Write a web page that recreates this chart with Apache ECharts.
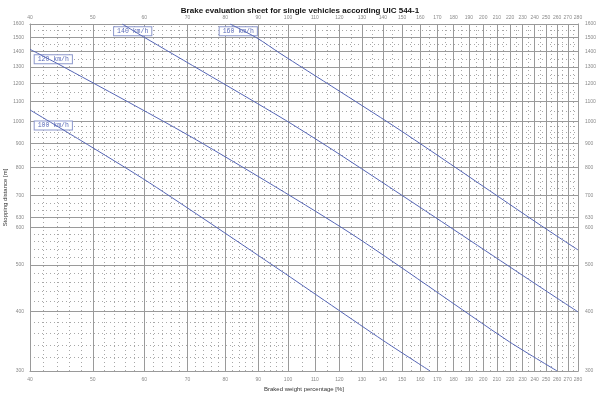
<!DOCTYPE html>
<html>
<head>
<meta charset="utf-8">
<script src="https://cdn.jsdelivr.net/npm/echarts@6/dist/echarts.min.js"></script>
<style>html,body{margin:0;padding:0;background:#fff}#c{width:600px;height:396px}</style>
</head>
<body>
<div id="c"></div>
<script>
// ---- data ----
const titleText = 'Brake evaluation sheet for single vehicles according UIC 544-1';
const xName = 'Braked weight percentage [%]';
const yName = 'Stopping distance [m]';
const xTicks = [40,50,60,70,80,90,100,110,120,130,140,150,160,170,180,190,200,210,220,230,240,250,260,270,280];
const yTicks = [300,400,500,600,630,700,800,900,1000,1100,1200,1300,1400,1500,1600];
const xMinor = [42,44,46,48,52,54,56,58,62,64,66,68,72,74,76,78,82,84,86,88,92,94,96,98,
  105,115,125,135,145,155,165,175,185,195,205,215,225,235,245,255,265,275];
const yMinor = [320,340,360,380,420,440,460,480,520,540,560,580,650,675,725,750,775,825,850,875,925,950,975,
  1050,1150,1250,1350,1450,1550];
const speeds = ['100 km/h','120 km/h','140 km/h','160 km/h'];
const lambda100 = [40, 47.8, 61.2, 97.2, 140, 165.6];
const dist100   = [1057, 914, 743, 488, 348, 300];
const lambda120 = [40, 44.5, 72.3, 124.6, 217.6, 260];
const dist120   = [1416, 1313, 914, 584, 348, 300];
const lambda140 = [55.5, 59.8, 97.2, 117.3, 165.6, 244.7, 280];
const dist140   = [1600, 1505, 1022, 871, 640, 450, 399];
const lambda160 = [81.4, 89.6, 97.2, 148.8, 244.7, 280];
const dist160   = [1600, 1495, 1389, 959, 607, 538];

const curves = [[lambda100, dist100],[lambda120, dist120],[lambda140, dist140],[lambda160, dist160]];
// label anchors (data coords), kept in option, not in data arrays
const labelAnchors = [[43.45, 980],[43.45, 1349],[57.6, 1545],[83.8, 1545]];

const chart = echarts.init(document.getElementById('c'), null, {renderer:'canvas'});
const lineColor = '#5565b5';
const tickFont = {fontSize:5, color:'#8a8a8a', fontFamily:'Liberation Sans'};

function xAxisDef(pos, withName){
  return {
    type:'log', logBase:10, min:40, max:280, position:pos,
    axisLine:{show:true, lineStyle:{color:'#888', width:1}},
    axisTick:{show:false},
    splitLine:{show:false}, minorSplitLine:{show:false},
    axisLabel:Object.assign({show:true, customValues:xTicks, margin:pos==='top'?4:6,
      formatter:v=>String(Math.round(v))}, tickFont),
    name: withName ? xName : '',
    nameLocation:'middle', nameGap:15, nameMoveOverlap:false,
    nameTextStyle:{fontSize:6, color:'#333', fontFamily:'Liberation Sans'}
  };
}
function yAxisDef(pos, withName){
  return {
    type:'log', logBase:10, min:300, max:1600, position:pos,
    axisLine:{show:true, lineStyle:{color:'#888', width:1}},
    axisTick:{show:false},
    splitLine:{show:false}, minorSplitLine:{show:false},
    axisLabel:Object.assign({show:true, customValues:yTicks, margin:pos==='left'?6:7,
      formatter:v=>String(Math.round(v))}, tickFont),
    name: withName ? yName : '',
    nameLocation:'middle', nameGap:22, nameRotate:90, nameMoveOverlap:false,
    nameTextStyle:{fontSize:6, color:'#333', fontFamily:'Liberation Sans'}
  };
}

const gridSeries = [
  {
    type:'line', name:'minor', data:[], silent:true, z:1,
    markLine:{silent:true, symbol:['none','none'], animation:false, label:{show:false},
      lineStyle:{color:'#a8a8a8', width:1, type:[1,3]},
      emphasis:{disabled:true},
      data: xMinor.map(v=>({xAxis:v})).concat(yMinor.map(v=>({yAxis:v})))}
  },
  {
    type:'line', name:'major', data:[], silent:true, z:2,
    markLine:{silent:true, symbol:['none','none'], animation:false, label:{show:false},
      lineStyle:{color:'#9a9a9a', width:1, type:'solid'},
      emphasis:{disabled:true},
      data: xTicks.map(v=>({xAxis:v})).concat(yTicks.map(v=>({yAxis:v})))}
  }
];

const curveSeries = curves.map((c,i)=>({
  type:'line', name:speeds[i], z:5,
  data:c[0].map((l,j)=>[l, c[1][j]]),
  showSymbol:false, symbol:'none', smooth:0.25,
  lineStyle:{color:lineColor, width:1},
  emphasis:{disabled:true},
  markPoint:{
    symbol:'rect', symbolSize:0, animation:false, silent:true,
    data:[{coord:labelAnchors[i], value:speeds[i]}],
    label:{show:true, position:'inside', formatter:speeds[i],
      fontFamily:'Liberation Mono', fontSize:6.5, color:'#5a6ab8',
      backgroundColor:'#fff', borderColor:'#8d98cc', borderWidth:1, padding:[1,3,0,3]}
  }
}));

chart.setOption({
  animation:false,
  backgroundColor:'#fff',
  title:{text:titleText, left:'center', top:2,
    textStyle:{fontSize:8, fontWeight:'bold', color:'#111', fontFamily:'Liberation Sans'}},
  grid:{left:30, right:22, top:24, bottom:25, containLabel:false, outerBoundsMode:'none'},
  xAxis:[xAxisDef('bottom', true), xAxisDef('top', false)],
  yAxis:[yAxisDef('left', true), yAxisDef('right', false)],
  series: gridSeries.concat(curveSeries)
});
</script>
</body>
</html>
